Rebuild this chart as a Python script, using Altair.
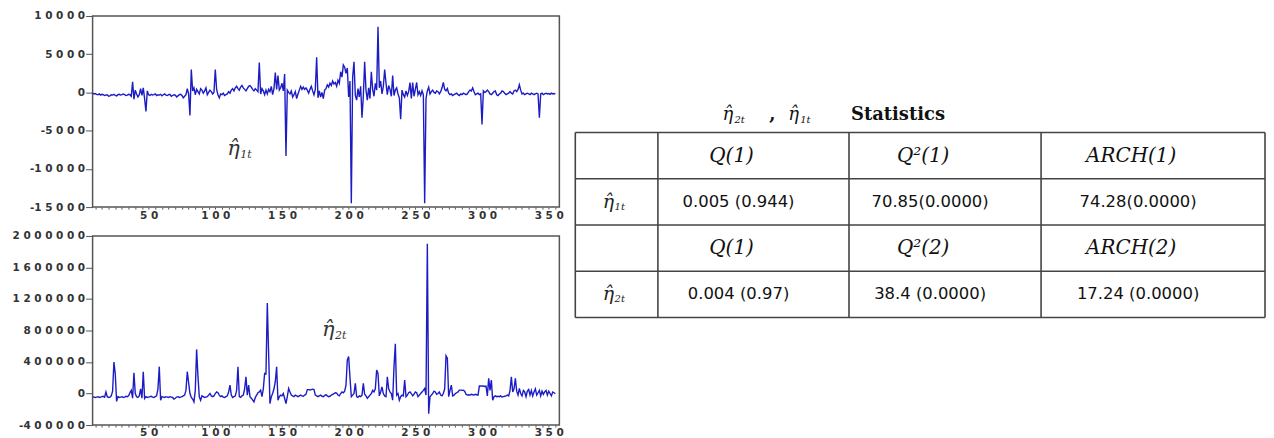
import altair as alt
import pandas as pd

# ---------------- data ----------------
obs_first = 8  # first observation shown

# eta_1t residual series (units)
eta1 = [
    -100, -200, -150, -250, -300, -200, -350, -250, -300, -400,
    -350, -300, -500, -450, -300, -350, -250, -400, -450, -300,
    -250, -350, -300, -200, -300, -400, -350, -250, -300, -500,
    1400, -900, 300, -200, -600, -300, 500, -400, 600, -800,
    -2500, 200, -300, -400, -250, -350, -300, -200, -400, -300,
    -350, -250, -450, -300, -200, -350, -400, -300, -250, -500,
    -400, -300, -350, -600, -450, -300, -250, -400, -700, -500,
    -300, 500, -200, -3000, 3000, 200, 600, -300, 400, 100,
    -200, 500, 300, -100, 200, 600, -300, 0, 300, 100,
    -200, 0, 3000, 400, -300, -700, -200, -300, -100, -400,
    -300, -200, 100, -100, 300, 500, 200, 600, 800, 500,
    300, 700, 900, 600, 400, 200, 500, 800, 900, 700,
    400, 200, 500, 300, 100, 3900, -200, 500, 200, -300,
    300, -200, 400, 100, 800, -300, 500, 2600, 400, 2200,
    300, 600, 1200, 200, 2400, -8300, 300, 0, -200, 200,
    -600, -300, 100, -800, -200, 300, 800, 400, 700, 400,
    600, 300, -100, 400, 800, 200, -300, 400, 4600, -700,
    200, -600, 0, -800, 300, 500, 1000, 700, 1200, 900,
    1500, 1100, 1300, 800, 1600, 1200, 2700, 2000, 3600, 3300,
    2500, 3200, -600, 1500, -14500, 2000, 4000, -400, -1000, 500,
    -600, 800, -3300, -500, 4000, 300, -1000, 600, -800, 2700,
    400, -500, 1200, 300, 8600, 600, 1500, -200, 800, 3000,
    1200, -300, 900, 400, -500, 2200, -400, 300, 600, -200,
    -700, -3500, 300, -300, -600, 200, -400, 100, 1300, -800,
    1300, -500, 400, 1300, -300, 100, -400, 200, -300, -14500,
    -800, 200, 700, -200, 100, 300, 0, -100, 200, 100,
    -200, 100, 600, 1300, 400, 200, 500, -100, -300, -200,
    -400, -300, -200, -100, -300, -400, -200, -300, -100, -200,
    -300, -200, 100, 300, 200, 600, 100, -300, -200, -100,
    -300, -200, -4200, 200, 0, 100, 300, 100, -200, -300,
    -100, 100, 200, -300, -400, -200, -100, 200, 100, -100,
    -300, -200, -100, 100, -100, -200, 200, 300, 100, 400,
    1000, 300, -200, -100, -300, -200, -100, -200, -300, -100,
    -200, -300, -200, -100, -200, -3300, -200, -100, -300, -200,
    -100, -200, -150, -250, -100, -200, -150, -200,
]

# eta_2t residual series (thousands)
eta2_k = [
    -40, -45, -50, -45, -40, -50, -45, -40, -35, -45,
    20, -40, -50, -45, -30, 30, 400, 250, -100, -40,
    -50, -45, -40, -50, -45, -35, -40, -30, 10, 40,
    -60, 264, 0, -40, -50, -30, 60, -60, 277, -64,
    -40, -50, -45, -40, -35, -45, -50, -40, -30, 60,
    341, -85, -40, -45, -50, -40, -45, -50, -40, -45,
    -50, -70, -60, -45, -40, -50, -45, -40, -30, -20,
    40, 277, 140, 0, -50, -70, -106, 40, 560, 221,
    -40, -85, -30, -40, -50, -45, -40, -20, 0, -30,
    -40, -30, 0, 21, 10, -20, -40, -30, -45, -50,
    -40, -30, 20, 106, -20, -50, -40, -30, 40, 340,
    -40, -50, -30, -20, 60, 213, -20, 106, -40, -60,
    -80, -106, -50, -20, 10, 20, 43, -40, 60, 255,
    250, 1150, 500, -128, -40, 0, 60, 150, 340, -85,
    -40, -20, -30, 0, -60, -128, -40, 64, 20, -20,
    -30, -40, -20, -30, -40, -30, -20, -30, -35, -20,
    -10, 50, 50, 45, 50, 55, 50, -20, -30, -40,
    -30, -20, -35, -40, -25, -15, -30, -40, -35, -20,
    -10, 0, 10, 5, -20, -30, 0, 20, 10, 30,
    106, 426, 470, 200, -40, -20, 0, 128, -40, -50,
    -30, -40, -20, 128, -10, -30, -60, -40, -20, 0,
    40, 20, 60, 298, 255, -30, 20, 85, 0, -30,
    -40, 213, 60, 20, 0, -85, 341, 630, -20, 0,
    -85, -40, -20, -30, 170, -40, -20, 10, 20, 0,
    -30, -10, 20, 10, -40, -20, 0, 20, 40, 64,
    -20, 1900, -256, -40, -20, 0, 30, 20, -10, 0,
    20, -20, -30, 0, 60, 480, 450, -40, 40, 106,
    -30, -20, 0, 10, 20, 43, 43, 40, 43, 30,
    -10, -20, -15, -20, -10, -15, -20, -10, -15, -20,
    95, 95, 95, 95, 90, 95, -30, 192, 40, 170,
    -85, -40, -30, -40, -35, -40, -30, -45, -40, -35,
    -30, -20, -30, 40, 213, 20, 60, 192, 30, -20,
    64, 0, -30, 40, 20, -40, 30, 50, -20, 40,
    -30, 20, 60, -20, 10, 40, -30, 30, -10, 20,
    40, -20, 30, 0, -30, 20, 10, 0,
]

top_ticks = [-15000, -10000, -5000, 0, 5000, 10000]
bot_ticks = [-400000, 0, 400000, 800000, 1200000, 1600000, 2000000]
x_labels = [50, 100, 150, 200, 250, 300, 350]
x_minor_step = 5

# table contents
header_1 = ["Q(1)", "Q\u00b2(1)", "ARCH(1)"]
values_1 = ["0.005 (0.944)", "70.85(0.0000)", "74.28(0.0000)"]
header_2 = ["Q(1)", "Q\u00b2(2)", "ARCH(2)"]
values_2 = ["0.004 (0.97)", "38.4 (0.0000)", "17.24 (0.0000)"]
row_label_subs = ["1t", "2t"]
title_subs = ["2t", "1t"]
title_word = "Statistics"
ETA = "\u03b7\u0302"

# ---------------- style / layout ----------------
LINE = "#1c1cc4"
FRAME = "#555555"
LABEL = "#333333"
W = 469
H_TOP = 192
H_BOT = 190
X_DOMAIN = [8, 358]
col_widths = [83, 192, 193, 225]
ROW_PX = 46.5
TABLE_H = 330
TABLE_TOP_OFFSET = 117  # px from table view top to first table line

spaced = "replace(join(split(datum.label, ''), ' '), '\u2212 ', '-')"


def x_axis():
    return alt.Axis(
        values=list(range(10, 356, x_minor_step)),
        labelExpr=f"indexof({x_labels}, datum.value) >= 0 ? {spaced} : ''",
        format="d", tickSize=2, tickColor=FRAME, domain=False, grid=False,
        labelFont="DejaVu Sans", labelFontSize=10.5, labelFontWeight="bold",
        labelColor=LABEL, labelPadding=1, labelOverlap=False, labelFlush=False,
        labelBound=False, title=None,
    )


def y_axis(ticks):
    return alt.Axis(
        values=ticks, format="d", labelExpr=spaced, tickSize=7, tickColor=FRAME,
        domain=False, grid=False, labelFont="DejaVu Sans", labelFontSize=10.5,
        labelFontWeight="bold", labelColor=LABEL, labelPadding=1,
        labelOverlap=False, labelFlush=False, labelBound=False, title=None,
    )


def eta_label(df, xsc, ysc, ticks):
    enc = dict(x=alt.X("obs:Q", scale=xsc, axis=x_axis()),
               y=alt.Y("v:Q", scale=ysc, axis=y_axis(ticks)))
    main = alt.Chart(df).mark_text(
        font="DejaVu Serif", fontStyle="italic", fontSize=21, align="left",
        baseline="middle", color=LABEL,
    ).encode(text="main:N", **enc)
    sub = alt.Chart(df).mark_text(
        font="DejaVu Serif", fontStyle="italic", fontSize=11, align="left",
        baseline="middle", color=LABEL, dx=13, dy=6,
    ).encode(text="sub:N", **enc)
    return [main, sub]


xs = alt.Scale(domain=X_DOMAIN, nice=False, zero=False)
ys_top = alt.Scale(domain=[-15000, 10000], nice=False, zero=False)
ys_bot = alt.Scale(domain=[-400000, 2000000], nice=False, zero=False)

top_df = pd.DataFrame({"obs": range(obs_first, obs_first + len(eta1)), "v": eta1})
bot_df = pd.DataFrame({"obs": range(obs_first, obs_first + len(eta2_k)),
                       "v": [k * 1000 for k in eta2_k]})

top_lab = pd.DataFrame({"obs": [109], "v": [-7400], "main": [ETA], "sub": [row_label_subs[0]]})
bot_lab = pd.DataFrame({"obs": [180], "v": [805000], "main": [ETA], "sub": [row_label_subs[1]]})

top_line = alt.Chart(top_df).mark_line(color=LINE, strokeWidth=1.4, clip=True).encode(
    x=alt.X("obs:Q", scale=xs, axis=x_axis()),
    y=alt.Y("v:Q", scale=ys_top, axis=y_axis(top_ticks)),
)
top = alt.layer(top_line, *eta_label(top_lab, xs, ys_top, top_ticks)).properties(
    width=W, height=H_TOP, view=alt.ViewBackground(stroke=FRAME, strokeWidth=1.5))

bot_line = alt.Chart(bot_df).mark_line(color=LINE, strokeWidth=1.4, clip=True).encode(
    x=alt.X("obs:Q", scale=xs, axis=x_axis()),
    y=alt.Y("v:Q", scale=ys_bot, axis=y_axis(bot_ticks)),
)
bottom = alt.layer(bot_line, *eta_label(bot_lab, xs, ys_bot, bot_ticks)).properties(
    width=W, height=H_BOT, view=alt.ViewBackground(stroke=FRAME, strokeWidth=1.5))

# ---------------- table ----------------
bounds_x = [0]
for w in col_widths:
    bounds_x.append(bounds_x[-1] + w)
TABLE_W = bounds_x[-1]
centers = [(bounds_x[i] + bounds_x[i + 1]) / 2 for i in range(len(col_widths))]
n_rows = 4
y_lo = -TABLE_TOP_OFFSET / ROW_PX
y_hi = (TABLE_H - TABLE_TOP_OFFSET) / ROW_PX

tx = alt.Scale(domain=[0, TABLE_W], nice=False, zero=False)
ty = alt.Scale(domain=[y_lo, y_hi], nice=False, zero=False, reverse=True)

hl = pd.DataFrame({"y": list(range(n_rows + 1)), "x0": 0, "x1": TABLE_W})
vl = pd.DataFrame({"x": bounds_x, "y0": 0, "y1": n_rows})

h_rules = alt.Chart(hl).mark_rule(color="#444444", strokeWidth=1.6).encode(
    x=alt.X("x0:Q", scale=tx, axis=None), x2="x1:Q",
    y=alt.Y("y:Q", scale=ty, axis=None))
v_rules = alt.Chart(vl).mark_rule(color="#444444", strokeWidth=1.6).encode(
    x=alt.X("x:Q", scale=tx, axis=None),
    y=alt.Y("y0:Q", scale=ty, axis=None), y2="y1:Q")

head_rows = []
val_rows = []
for r, (hdr, vals) in enumerate([(header_1, values_1), (header_2, values_2)]):
    for c in range(3):
        head_rows.append({"x": centers[c + 1], "y": 2 * r + 0.5, "t": hdr[c]})
        val_rows.append({"x": centers[c + 1], "y": 2 * r + 1.5, "t": vals[c]})
head_df = pd.DataFrame(head_rows)
val_df = pd.DataFrame(val_rows)

tenc = dict(x=alt.X("x:Q", scale=tx, axis=None), y=alt.Y("y:Q", scale=ty, axis=None))

heads = alt.Chart(head_df).mark_text(
    font="DejaVu Serif", fontStyle="italic", fontSize=20, color="#111111",
    align="center", baseline="middle", dx=-22).encode(text="t:N", **tenc)
vals = alt.Chart(val_df).mark_text(
    font="DejaVu Sans", fontSize=16.5, color="#111111",
    align="center", baseline="middle", dx=-15).encode(text="t:N", **tenc)

rl_df = pd.DataFrame({"x": [centers[0] - 14, centers[0] - 14], "y": [1.5, 3.5],
                      "main": [ETA, ETA], "sub": row_label_subs})
rl_main = alt.Chart(rl_df).mark_text(
    font="DejaVu Serif", fontStyle="italic", fontSize=19, color="#222222",
    align="left", baseline="middle").encode(text="main:N", **tenc)
rl_sub = alt.Chart(rl_df).mark_text(
    font="DejaVu Serif", fontStyle="italic", fontSize=10, color="#222222",
    align="left", baseline="middle", dx=12, dy=5).encode(text="sub:N", **tenc)

title_y = -0.37
t_eta = pd.DataFrame({"x": [148, 214], "y": [title_y, title_y], "main": [ETA, ETA],
                      "sub": title_subs})
t_main = alt.Chart(t_eta).mark_text(
    font="DejaVu Serif", fontStyle="italic", fontSize=18, color="#111111",
    align="left", baseline="middle").encode(text="main:N", **tenc)
t_sub = alt.Chart(t_eta).mark_text(
    font="DejaVu Serif", fontStyle="italic", fontSize=10, color="#111111",
    align="left", baseline="middle", dx=12, dy=5).encode(text="sub:N", **tenc)
t_rest = pd.DataFrame({"x": [195, 277], "y": [title_y, title_y], "t": [",", title_word]})
t_words = alt.Chart(t_rest).mark_text(
    font="DejaVu Serif", fontWeight="bold", fontSize=18, color="#111111",
    align="left", baseline="middle").encode(text="t:N", **tenc)

table = alt.layer(h_rules, v_rules, heads, vals, rl_main, rl_sub, t_main, t_sub, t_words).properties(
    width=TABLE_W, height=TABLE_H)

left = alt.vconcat(top, bottom, spacing=8)
chart = alt.hconcat(left, table, spacing=10).properties(
    padding={"left": 3, "top": 1, "right": 0, "bottom": 0},
    background="white",
).configure_view(stroke=None).configure_axis(labelOverlap=False)

chart.save("out.html", embed_options={"renderer": "svg", "actions": False})
